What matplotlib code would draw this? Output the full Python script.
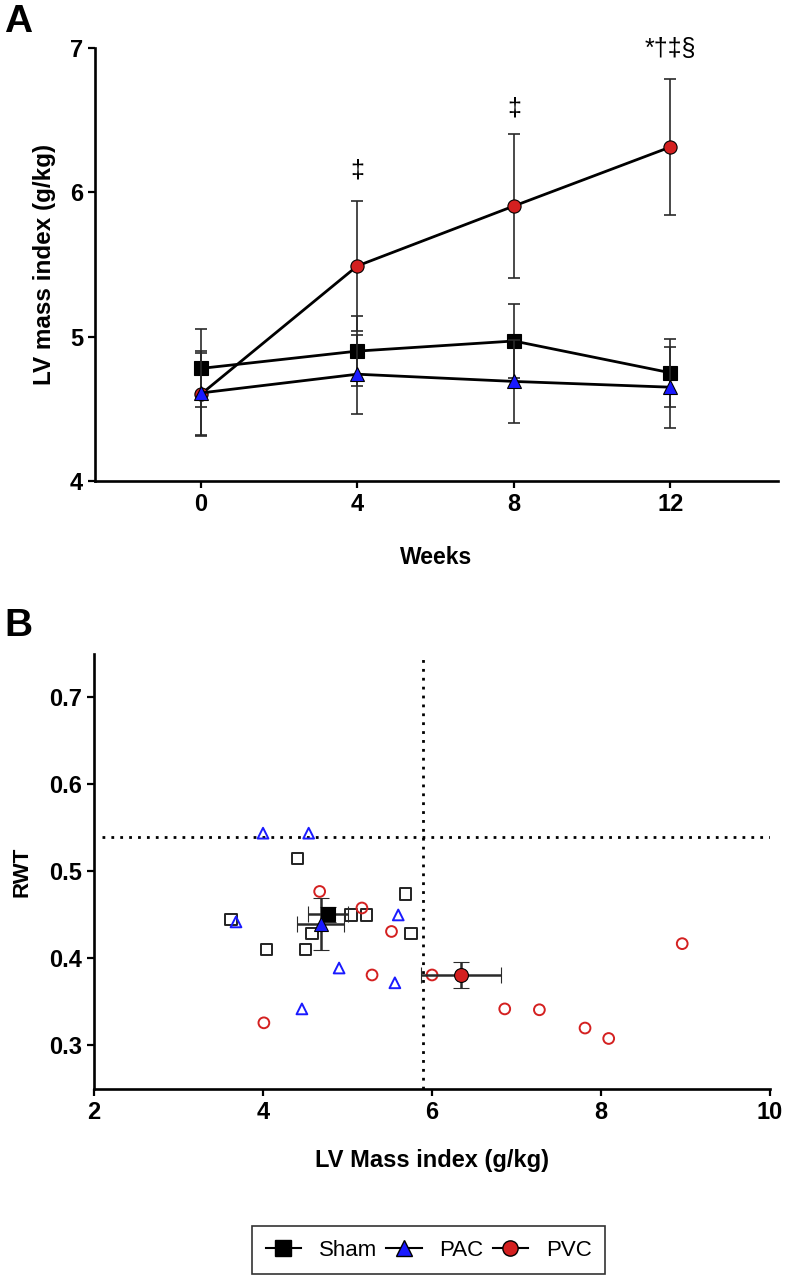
import numpy as np
import matplotlib
matplotlib.use("Agg")
import matplotlib.pyplot as plt
from matplotlib.lines import Line2D

plt.rcParams['font.family'] = ['Liberation Sans', 'DejaVu Sans']

# ---- panel A data (mean +/- SD over time)
weeks = [0, 4, 8, 12]
sham_mean = [4.78, 4.90, 4.97, 4.75]
sham_sd = [0.27, 0.245, 0.255, 0.237]
pac_mean = [4.61, 4.74, 4.69, 4.65]
pac_sd = [0.29, 0.275, 0.29, 0.28]
pvc_mean = [4.60, 5.49, 5.905, 6.314]
pvc_sd = [0.29, 0.45, 0.50, 0.47]
sig_labels = ["", "\u2021", "\u2021", "*\u2020\u2021\u00a7"]
sig_y = [0, 6.15, 6.58, 6.99]

# ---- panel B data (individual animals)
sham_x = [4.41, 5.04, 5.22, 5.69, 5.75, 3.62, 4.58, 4.04, 4.50]
sham_y = [0.515, 0.450, 0.450, 0.474, 0.429, 0.445, 0.429, 0.410, 0.410]
pac_x = [4.00, 4.54, 5.60, 3.68, 4.90, 5.56, 4.46]
pac_y = [0.544, 0.544, 0.450, 0.442, 0.389, 0.372, 0.342]
pvc_x = [4.67, 5.17, 5.52, 5.29, 6.00, 4.01, 6.86, 7.27, 7.81, 8.09, 8.96]
pvc_y = [0.477, 0.458, 0.431, 0.381, 0.381, 0.326, 0.342, 0.341, 0.320, 0.308, 0.417]
# group means +/- SEM
grp_x = [4.77, 4.68, 6.34]
grp_y = [0.4506, 0.440, 0.381]
grp_xerr = [0.235, 0.275, 0.475]
grp_yerr = [0.009, 0.03, 0.0145]
cut_x = 5.89
cut_y = 0.54

blue = "#1a1aff"
red = "#d42020"
ebc = "#2a2a2a"

fig = plt.figure(figsize=(7.88, 12.79), dpi=100)
axA = fig.add_axes([0.1206, 0.6239, 0.8668, 0.3386])
axB = fig.add_axes([0.1193, 0.1486, 0.858, 0.3401])

for ax in (axA, axB):
    for s in ("top", "right"):
        ax.spines[s].set_visible(False)
    for s in ("left", "bottom"):
        ax.spines[s].set_linewidth(1.9)
    ax.tick_params(width=1.6, length=5, labelsize=17)

# panel A
groups = [
    (pvc_mean, pvc_sd, "o", red, 2),
    (sham_mean, sham_sd, "s", "black", 3),
    (pac_mean, pac_sd, "^", blue, 4),
]
for mean, sd, mk, col, z in groups:
    axA.errorbar(weeks, mean, yerr=sd, fmt="none", ecolor=ebc, elinewidth=1.2,
                 capsize=4.5, capthick=1.2, zorder=z)
    axA.plot(weeks, mean, "-", color="black", lw=2.0, marker=mk, ms=9.5,
             mfc=col, mec="black", mew=0.8, zorder=z + 0.5)

for w, lab, yy in zip(weeks, sig_labels, sig_y):
    if lab:
        axA.text(w, yy, lab, ha="center", va="center", fontsize=18)

axA.set_xlim(-2.7, 14.75)
axA.set_ylim(4, 7)
axA.set_xticks(weeks)
axA.set_yticks([4, 5, 6, 7])
axA.set_xticklabels([str(w) for w in weeks], fontweight="bold")
axA.set_yticklabels(["4", "5", "6", "7"], fontweight="bold")
axA.set_xlabel("Weeks", fontsize=16.5, fontweight="bold", labelpad=22)
axA.set_ylabel("LV mass index (g/kg)", fontsize=17.5, fontweight="bold", labelpad=10)

# panel B
dots = (0, (1, 2.2))
axB.axhline(cut_y, xmin=0.012, color="black", lw=2.0, ls=dots, zorder=1)
axB.axvline(cut_x, color="black", lw=2.0, ls=dots, zorder=1)

axB.scatter(sham_x, sham_y, marker="s", s=65, facecolors="none",
            edgecolors="#222222", linewidths=1.4, zorder=3)
axB.scatter(pac_x, pac_y, marker="^", s=60, facecolors="none",
            edgecolors=blue, linewidths=1.4, zorder=3)
axB.scatter(pvc_x, pvc_y, marker="o", s=60, facecolors="none",
            edgecolors=red, linewidths=1.4, zorder=3)

mean_style = [("s", "black"), ("^", blue), ("o", red)]
for i, (mk, col) in enumerate(mean_style):
    axB.errorbar(grp_x[i], grp_y[i], xerr=grp_xerr[i], yerr=grp_yerr[i],
                 fmt=mk, ms=10, mfc=col, mec="black", mew=0.8,
                 ecolor=ebc, elinewidth=1.8, capsize=5.5, capthick=1.8, zorder=5)

axB.set_xlim(2, 10)
axB.set_ylim(0.25, 0.75)
axB.set_xticks([2, 4, 6, 8, 10])
axB.set_yticks([0.3, 0.4, 0.5, 0.6, 0.7])
axB.set_xticklabels(["2", "4", "6", "8", "10"], fontweight="bold")
axB.set_yticklabels(["0.3", "0.4", "0.5", "0.6", "0.7"], fontweight="bold")
axB.set_xlabel("LV Mass index (g/kg)", fontsize=17, fontweight="bold", labelpad=18)
axB.set_ylabel("RWT", fontsize=16, fontweight="bold", labelpad=12)

fig.text(0.005, 0.997, "A", fontsize=28, fontweight="bold", va="top", ha="left")
fig.text(0.005, 0.525, "B", fontsize=28, fontweight="bold", va="top", ha="left")

handles = [
    Line2D([], [], color="black", lw=1.5, marker="s", ms=11, mfc="black", mec="black"),
    Line2D([], [], color="black", lw=1.5, marker="^", ms=11, mfc=blue, mec="black"),
    Line2D([], [], color="black", lw=1.5, marker="o", ms=11, mfc=red, mec="black"),
]
leg = fig.legend(handles, ["Sham", "PAC", "PVC"], loc="center",
                 bbox_to_anchor=(0.544, 0.0225), ncol=3, fontsize=16,
                 frameon=True, fancybox=False, edgecolor="black",
                 handlelength=1.6, handletextpad=0.8, columnspacing=0.4,
                 borderpad=0.6)
leg.get_frame().set_linewidth(1.2)

fig.savefig("out.png", dpi=100)
